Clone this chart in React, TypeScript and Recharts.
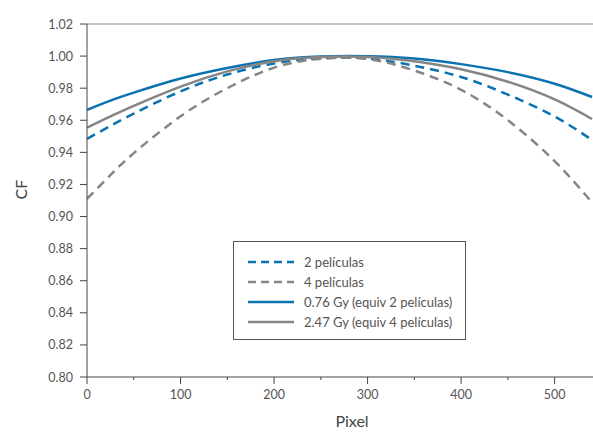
import React from 'react';
import { LineChart, Line, XAxis, YAxis, ReferenceLine, Legend } from 'recharts';

const pixels = [0, 25, 50, 100, 150, 200, 250, 300, 350, 400, 450, 500, 540];
const twoFilms = [0.9484, 0.9565, 0.9642, 0.978, 0.9885, 0.9954, 0.9986, 0.9985, 0.994, 0.987, 0.976, 0.9623, 0.9477];
const fourFilms = [0.911, 0.9258, 0.9395, 0.9625, 0.98, 0.9928, 0.9984, 0.9982, 0.991, 0.979, 0.96, 0.9345, 0.9087];
const gy076 = [0.9665, 0.9722, 0.9772, 0.986, 0.9926, 0.9975, 0.9997, 0.9999, 0.9985, 0.995, 0.99, 0.9828, 0.9745];
const gy247 = [0.9554, 0.9624, 0.969, 0.981, 0.9905, 0.9968, 0.9994, 0.9995, 0.9968, 0.9918, 0.984, 0.973, 0.9608];

const xTicks = [0, 50, 100, 150, 200, 250, 300, 350, 400, 450, 500];
const xLabels = [0, 100, 200, 300, 400, 500];
const yTicks = [0.8, 0.81, 0.82, 0.83, 0.84, 0.85, 0.86, 0.87, 0.88, 0.89, 0.9, 0.91, 0.92, 0.93, 0.94, 0.95, 0.96, 0.97, 0.98, 0.99, 1.0, 1.01, 1.02];
const yLabels = ['0.80', '0.82', '0.84', '0.86', '0.88', '0.90', '0.92', '0.94', '0.96', '0.98', '1.00', '1.02'];

const BLUE = '#0a72b0';
const GRAY = '#858585';
const FONT = 'Lato, "Open Sans", sans-serif';

const data = pixels.map((p, i) => ({
  pixel: p,
  two: twoFilms[i],
  four: fourFilms[i],
  g076: gy076[i],
  g247: gy247[i],
}));

const series = [
  { key: 'two', name: '2 películas', color: BLUE, dash: '9 6' },
  { key: 'four', name: '4 películas', color: GRAY, dash: '9 6' },
  { key: 'g076', name: '0.76 Gy (equiv 2 películas)', color: BLUE, dash: undefined },
  { key: 'g247', name: '2.47 Gy (equiv 4 películas)', color: GRAY, dash: undefined },
];

const YTick = (props: any) => {
  const { x, y, payload } = props;
  const label = yLabels.find(l => Math.abs(parseFloat(l) - payload.value) < 1e-6);
  const len = label ? 7 : 4;
  return (
    <g>
      <line x1={x - len} x2={x} y1={y} y2={y} stroke="#444" strokeWidth={1} />
      {label && (
        <text x={x - 14} y={y} textAnchor="end" dominantBaseline="central" fontSize={12.5} fill="#555" fontFamily={FONT}>
          {label}
        </text>
      )}
    </g>
  );
};

const XTick = (props: any) => {
  const { x, y, payload } = props;
  const major = xLabels.includes(payload.value);
  const len = major ? 7 : 3;
  return (
    <g>
      <line x1={x} x2={x} y1={y} y2={y + len} stroke="#444" strokeWidth={1} />
      {major && (
        <text x={x} y={y + 17} textAnchor="middle" dominantBaseline="central" fontSize={12.5} fill="#555" fontFamily={FONT}>
          {payload.value}
        </text>
      )}
    </g>
  );
};

const LegendBox = () => (
  <div
    style={{
      width: 233,
      height: 99,
      border: '1px solid #555',
      background: '#fff',
      boxSizing: 'border-box',
      padding: '10px 0 0 13px',
      fontFamily: FONT,
      fontSize: 13,
      color: '#555',
      textAlign: 'left',
    }}
  >
    {series.map(s => (
      <div key={s.key} style={{ display: 'flex', alignItems: 'center', height: 20 }}>
        <svg width={48} height={6} style={{ marginRight: 9 }}>
          <line x1={1} x2={47} y1={3} y2={3} stroke={s.color} strokeWidth={2.5} strokeDasharray={s.dash ? '8 5' : undefined} />
        </svg>
        <span>{s.name}</span>
      </div>
    ))}
  </div>
);

export default function App() {
  return (
    <div style={{ position: 'absolute', left: 0, top: 0, background: '#fff' }}>
      <LineChart width={593} height={433} data={data} margin={{ top: 24, right: 0, bottom: 0, left: 0 }}>
        <XAxis
          type="number"
          dataKey="pixel"
          domain={[0, 541]}
          ticks={xTicks}
          tick={<XTick />}
          tickLine={false}
          tickSize={0}
          tickMargin={0}
          axisLine={{ stroke: '#444' }}
          height={56}
          allowDataOverflow
          label={({ viewBox }: any) => (
            <text
              x={viewBox.x + viewBox.width / 2 + 12}
              y={viewBox.y + viewBox.height - 6}
              textAnchor="middle"
              fontSize={16}
              fill="#444"
              fontFamily={FONT}
            >
              Pixel
            </text>
          )}
        />
        <YAxis
          type="number"
          domain={[0.8, 1.02]}
          ticks={yTicks}
          tick={<YTick />}
          tickLine={false}
          tickSize={0}
          tickMargin={0}
          axisLine={{ stroke: '#444' }}
          width={87}
          allowDataOverflow
          label={({ viewBox }: any) => {
            const cx = viewBox.x + 20;
            const cy = viewBox.y + viewBox.height / 2 - 11;
            return (
              <text
                x={cx}
                y={cy}
                transform={`rotate(-90, ${cx}, ${cy})`}
                textAnchor="middle"
                dominantBaseline="central"
                fontSize={16}
                fill="#444"
                fontFamily={FONT}
              >
                CF
              </text>
            );
          }}
        />
        <ReferenceLine y={1.02} stroke="#8a8a8a" strokeWidth={1.2} />
        {series.map(s => (
          <Line
            key={s.key}
            type="natural"
            dataKey={s.key}
            name={s.name}
            stroke={s.color}
            strokeWidth={2.5}
            strokeDasharray={s.dash}
            dot={false}
            isAnimationActive={false}
          />
        ))}
        <Legend
          layout="vertical"
          align="center"
          verticalAlign="middle"
          content={<LegendBox />}
          wrapperStyle={{ position: 'absolute', left: 233, top: 241, width: 'auto', height: 'auto' }}
        />
      </LineChart>
    </div>
  );
}
